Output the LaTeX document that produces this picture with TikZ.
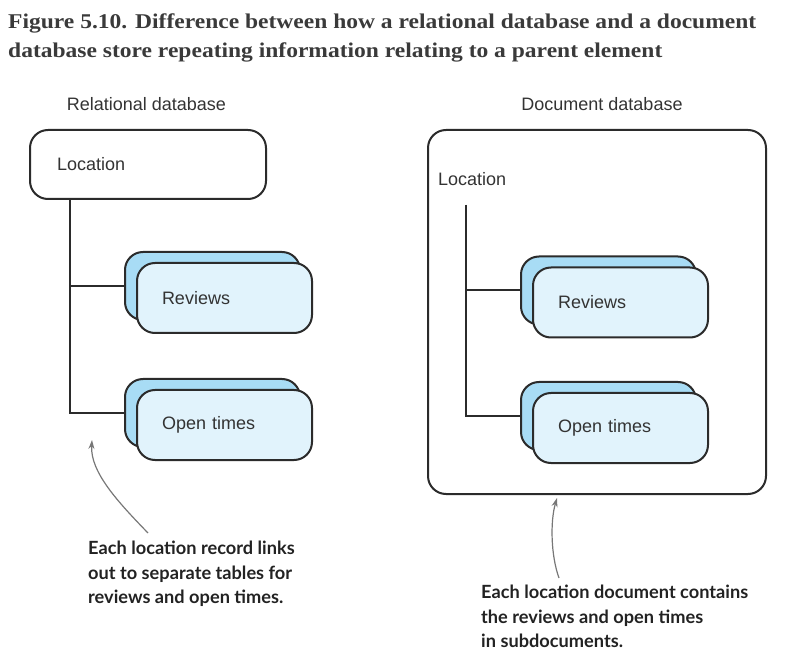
\documentclass[tikz,border=0pt]{standalone}
\usepackage{fontspec}
\setmainfont{Liberation Serif}
\setsansfont{Liberation Sans}
\newfontfamily\titlefamily[FakeStretch=1.12]{Liberation Serif}
\newfontfamily\notefamily{Lato}
\usetikzlibrary{positioning,arrows.meta}

\definecolor{edge}{HTML}{2B2B2B}
\definecolor{backblue}{HTML}{A8DCF5}
\definecolor{frontblue}{HTML}{E1F3FC}
\definecolor{titlegray}{HTML}{3A3A3A}
\definecolor{labelgray}{HTML}{333333}
\definecolor{arrowgray}{HTML}{777777}
\definecolor{notecolor}{HTML}{222222}

\newcommand\titlefont{\titlefamily\bfseries\fontsize{21}{30}\selectfont}
\newcommand\labelfont{\sffamily\fontsize{18}{22}\selectfont}
\newcommand\notefont{\notefamily\bfseries\fontsize{18.2}{24.5}\selectfont}

\tikzset{
  box/.style={draw=edge, line width=2pt, rounded corners=18pt},
  back/.style={box, fill=backblue, minimum width=175pt, minimum height=68pt},
  front/.style={box, fill=frontblue, minimum width=175pt, minimum height=70pt,
    text width=125pt, inner xsep=25pt, align=left, font=\labelfont, text=labelgray},
  link/.style={draw=edge, line width=2pt},
  pointer/.style={draw=arrowgray, line width=1.2pt, -{Stealth[length=9pt,width=6pt]}},
  dbtitle/.style={font=\labelfont, text=labelgray, inner sep=0pt},
  note/.style={font=\notefont, text=notecolor, align=left, inner sep=0pt}
}

\begin{document}
\begin{tikzpicture}[x=1pt,y=-1pt]
  \useasboundingbox (0,0) rectangle (809,668);

  % caption
  \node[anchor=base west, font=\titlefont, text=titlegray, inner sep=0pt] (title1) at (8,29)
    {Figure 5.10. Difference between how a relational database and a document};
  \node[anchor=base west, font=\titlefont, text=titlegray, inner sep=0pt] (title2) at (8,58)
    {database store repeating information relating to a parent element};

  % relational side
  \node[dbtitle] (reltitle) at (146.5,104) {Relational database};
  \node[box, minimum width=236pt, minimum height=69pt, text width=182pt, inner xsep=27pt,
    align=left, font=\labelfont, text=labelgray] (relloc) at (148,164.5) {Location};
  \node[back] (relrevback) at (212.5,286) {};
  \node[front] (relrev) at (224.5,298) {Reviews};
  \node[back] (relotback) at (212.5,413) {};
  \node[front] (relot) at (224.5,425) {Open times};
  \draw[link] ([xshift=41pt]relloc.south west) |- (relrevback.west);
  \draw[link] ([xshift=41pt]relloc.south west) |- (relotback.west);

  % document side
  \node[dbtitle] (doctitle) at (602,104) {Document database};
  \node[box, minimum width=338pt, minimum height=364pt] (docbox) at (597,312) {};
  \node[dbtitle, anchor=west] (docloc) at (438,179) {Location};
  \node[back] (docrevback) at (608.5,290.5) {};
  \node[front] (docrev) at (620.5,302.5) {Reviews};
  \node[back] (docotback) at (608.5,416) {};
  \node[front] (docot) at (620.5,428) {Open times};
  \draw[link] ([xshift=28pt,yshift=-19pt]docloc.south west) |- (docrevback.west);
  \draw[link] ([xshift=28pt,yshift=-19pt]docloc.south west) |- (docotback.west);

  % notes
  \node[note, anchor=north west] (relnote) at (88,541)
    {Each location record links\\out to separate tables for\\reviews and open times.};
  \node[note, anchor=north west] (docnote) at (481,585)
    {Each location document contains\\the reviews and open times\\in subdocuments.};
  \coordinate (reltip) at (92,440);
  \draw[pointer] ([xshift=60pt,yshift=8pt]relnote.north west)
    .. controls (118,502) and (90,472) .. (reltip);
  \draw[pointer] ([xshift=78pt,yshift=7pt]docnote.north west)
    .. controls (551,556) and (550,522) .. ([xshift=-40pt,yshift=-3pt]docbox.south);
\end{tikzpicture}
\end{document}
